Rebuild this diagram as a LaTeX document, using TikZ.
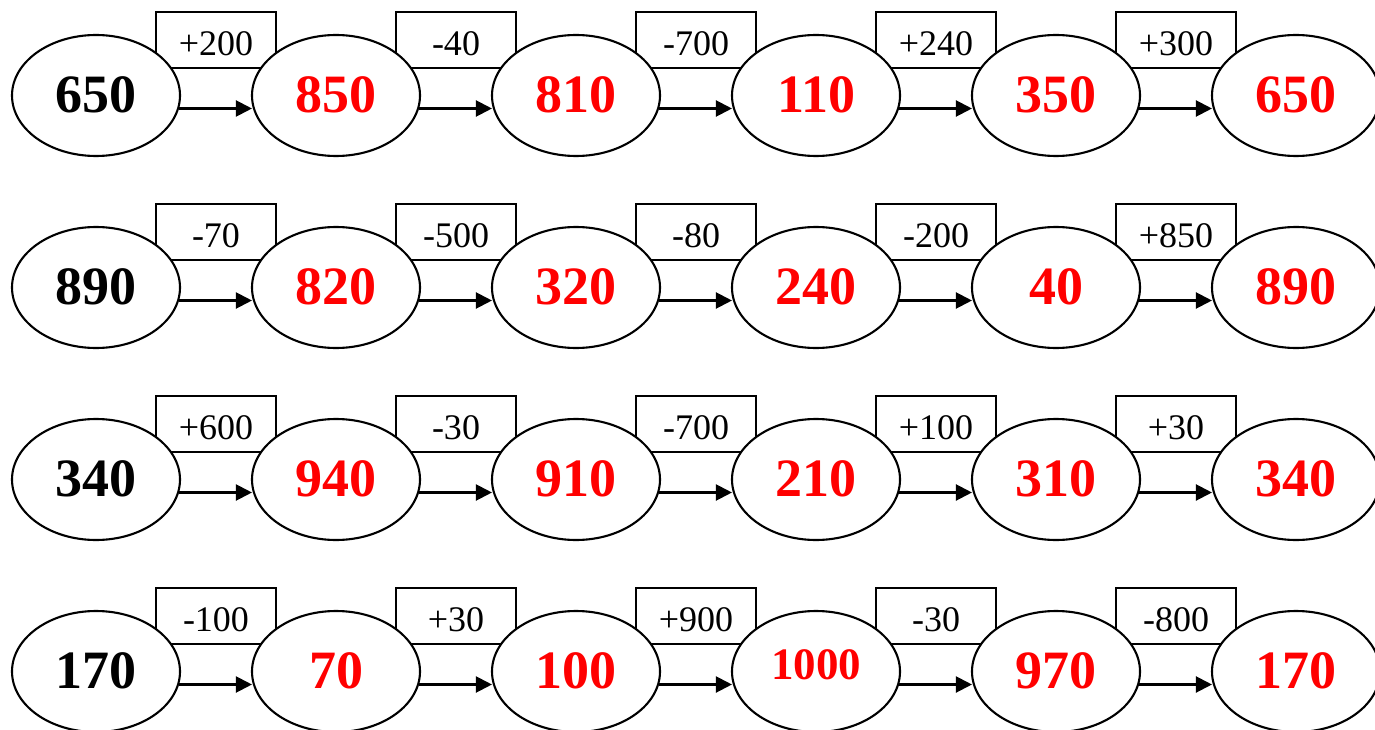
\documentclass[tikz,border=0pt]{standalone}
\usepackage{fontspec}
\setmainfont{Liberation Serif}
\usetikzlibrary{shapes.geometric,arrows.meta}
\tikzset{
  ell/.style={ellipse,draw=black,fill=white,line width=2.1pt,minimum width=168pt,minimum height=121pt,inner sep=0pt},
  num/.style={font=\fontsize{54}{60}\selectfont\bfseries,inner sep=0pt},
  bignum/.style={font=\fontsize{45}{52}\selectfont\bfseries,inner sep=0pt},
  opbox/.style={rectangle,draw=black,line width=2pt,minimum width=120pt,minimum height=56pt,inner sep=0pt},
  oplbl/.style={font=\fontsize{36}{40}\selectfont,inner sep=0pt},
  arr/.style={line width=2.1pt,-{Triangle[length=16pt,width=16pt]}}
}
\begin{document}
\begin{tikzpicture}[x=1pt,y=-1pt]
\useasboundingbox (0,0) rectangle (1375,730);
\foreach \r/\y/\vals/\ops in {
  1/95.5/{650,850,810,110,350,650}/{+200,-40,-700,+240,+300},
  2/287.5/{890,820,320,240,40,890}/{-70,-500,-80,-200,+850},
  3/479.5/{340,940,910,210,310,340}/{+600,-30,-700,+100,+30},
  4/671.5/{170,70,100,1000,970,170}/{-100,+30,+900,-30,-800}}{
  % ellipse anchor coordinates
  \foreach \v [count=\c from 0] in \vals {
    \pgfmathsetmacro\xx{96+240*\c}
    \coordinate (c\r-\c) at (\xx,\y);
  }
  % operation boxes
  \foreach \o [count=\c from 1] in \ops {
    \pgfmathsetmacro\bx{216+240*(\c-1)}
    \pgfmathsetmacro\by{\y-55.5}
    \pgfmathsetmacro\ly{\y-51.5}
    \node[opbox] (b\r-\c) at (\bx,\by) {};
    \node[oplbl] (l\r-\c) at (\bx,\ly) {\o};
  }
  % ellipses and numbers
  \foreach \v [count=\c from 0] in \vals {
    \ifnum\c=0 \def\col{black}\else\def\col{red}\fi
    \node[ell] (e\r-\c) at (c\r-\c) {};
    \ifnum\v=1000
      \node[bignum,text=\col] (t\r-\c) at ([yshift=7pt]e\r-\c.center) {\v};
    \else
      \node[num,text=\col] (t\r-\c) at ([yshift=1pt]e\r-\c.center) {\v};
    \fi
  }
  % arrows
  \foreach \o [count=\c from 1] in \ops {
    \pgfmathtruncatemacro\p{\c-1}
    \draw[arr] ([yshift=-13pt,xshift=-2pt]e\r-\p.east) -- ([yshift=-13pt,xshift=1pt]e\r-\c.west);
  }
}
\end{tikzpicture}
\end{document}
